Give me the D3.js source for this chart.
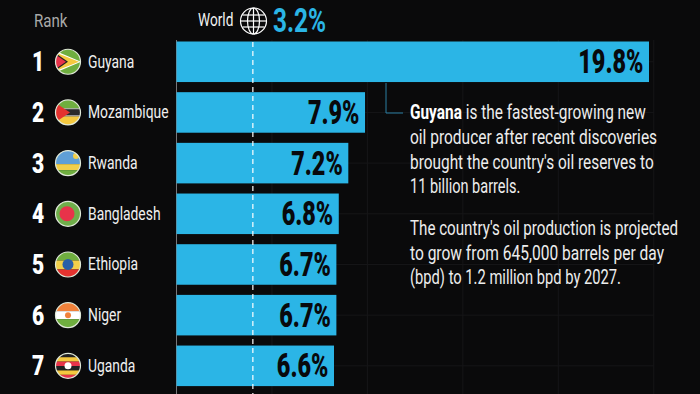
<!DOCTYPE html>
<html>
<head>
<meta charset="utf-8">
<script src="https://cdn.jsdelivr.net/npm/d3@7"></script>
<style>
  html, body { margin: 0; padding: 0; background: #0a0a0b; overflow: hidden; }
  text { font-family: "Roboto", sans-serif; }
</style>
</head>
<body>
<div id="chart"></div>
<script>
const countries = ["Guyana", "Mozambique", "Rwanda", "Bangladesh", "Ethiopia", "Niger", "Uganda"];
const ranks = [1, 2, 3, 4, 5, 6, 7];
const growth = [19.8, 7.9, 7.2, 6.8, 6.7, 6.7, 6.6];
const worldGrowth = 3.2;
const gridTicks = [4, 8, 12, 16, 20];
const noteOne = ["is the fastest-growing new", "oil producer after recent discoveries", "brought the country's oil reserves to", "11 billion barrels."];
const noteTwo = ["The country's oil production is projected", "to grow from 645,000 barrels per day", "(bpd) to 1.2 million bpd by 2027."];

const width = 700, height = 394;
const blue = "#2bb5e6";

const svg = d3.select("#chart").append("svg").attr("width", width).attr("height", height);

const x = d3.scaleLinear().domain([0, 19.8]).range([176.5, 649]);
const y = d3.scaleBand().domain(countries).range([41.5, 386.1]).paddingInner(0.2).paddingOuter(0);
const mid = d => y(d) + y.bandwidth() / 2;

// Roboto is too wide for this design, so text gets squeezed horizontally
const squeeze = (tx, ty, s) => `translate(${tx},${ty}) scale(${s},1)`;

// faint gridlines behind everything
svg.append("g").selectAll("line").data(gridTicks).join("line")
  .attr("x1", d => x(d)).attr("x2", d => x(d))
  .attr("y1", 40).attr("y2", height)
  .attr("stroke", "#161618").attr("stroke-width", 1);
svg.append("g").selectAll("line").data(countries).join("line")
  .attr("x1", x(0)).attr("x2", x(20))
  .attr("y1", mid).attr("y2", mid)
  .attr("stroke", "#161618").attr("stroke-width", 1);

// left axis line
svg.append("line").attr("x1", x(0)).attr("x2", x(0)).attr("y1", 40).attr("y2", height)
  .attr("stroke", "#77777a").attr("stroke-width", 1);

// bars
svg.append("g").selectAll("rect").data(countries).join("rect")
  .attr("x", x(0))
  .attr("y", d => y(d))
  .attr("width", (d, i) => x(growth[i]) - x(0))
  .attr("height", y.bandwidth())
  .attr("fill", blue);

// world average dashed line
svg.append("line").attr("x1", x(worldGrowth)).attr("x2", x(worldGrowth)).attr("y1", 42).attr("y2", height)
  .attr("stroke", "#fff").attr("stroke-width", 1.2).attr("stroke-dasharray", "5 4");

// value labels
svg.append("g").selectAll("text").data(countries).join("text")
  .attr("transform", (d, i) => squeeze(x(growth[i]) - 5.5, mid(d) + 11.5, 0.71))
  .attr("text-anchor", "end")
  .attr("font-size", 33).attr("font-weight", 900).attr("fill", "#08090c")
  .text((d, i) => growth[i].toFixed(1) + "%");

// rank numbers
svg.append("g").selectAll("text").data(countries).join("text")
  .attr("transform", d => squeeze(38, mid(d) + 9.5, 0.78))
  .attr("text-anchor", "middle")
  .attr("font-size", 27).attr("font-weight", 900).attr("fill", "#fff")
  .text((d, i) => ranks[i]);

// country names
svg.append("g").selectAll("text").data(countries).join("text")
  .attr("transform", d => squeeze(88, mid(d) + 6, 0.75))
  .attr("font-size", 18.5).attr("fill", "#f0f0f0")
  .text(d => d);

// flags, each is a clipped circle
const defs = svg.append("defs");
defs.append("clipPath").attr("id", "flag-clip").append("circle").attr("r", 12.5);

const flagBands = {
  Rwanda: [[-13, 14, "#5f9fd6"], [1, 6, "#f2cf4a"], [7, 6, "#6fae3f"]],
  Bangladesh: [[-13, 26, "#6fae4a"]],
  Ethiopia: [[-13, 9, "#6fae3f"], [-4, 9, "#f2cf4a"], [5, 8, "#e4322f"]],
  Niger: [[-13, 9, "#f0813a"], [-4, 8, "#fff"], [4, 9, "#6fae3f"]],
  Uganda: [[-13, 4.4, "#222"], [-8.6, 4.4, "#f5c93f"], [-4.2, 4.4, "#e8334a"], [0.2, 4.4, "#222"], [4.6, 4.4, "#f5c93f"], [9, 4, "#e8334a"]],
  Mozambique: [[-13, 9, "#6fae3f"], [-4, 1, "#fff"], [-3, 6, "#2a2a2a"], [3, 1, "#fff"], [4, 9, "#f5c93f"]],
  Guyana: [[-13, 26, "#6fae3f"]]
};

const flags = svg.append("g").selectAll("g").data(countries).join("g")
  .attr("transform", d => `translate(68,${mid(d)})`);
const flagInner = flags.append("g").attr("clip-path", "url(#flag-clip)");

flagInner.selectAll("rect").data(d => flagBands[d]).join("rect")
  .attr("x", -13).attr("width", 26)
  .attr("y", b => b[0]).attr("height", b => b[1]).attr("fill", b => b[2]);

flagInner.filter(d => d === "Guyana").each(function() {
  const g = d3.select(this);
  g.append("path").attr("d", "M-13,-11L13,0L-13,11Z").attr("fill", "#fff");
  g.append("path").attr("d", "M-13,-9.5L11,0L-13,9.5Z").attr("fill", "#f5c93f");
  g.append("path").attr("d", "M-13,-9L0,0L-13,9Z").attr("fill", "#222");
  g.append("path").attr("d", "M-13,-7.5L-2,0L-13,7.5Z").attr("fill", "#e8334a");
});
flagInner.filter(d => d === "Mozambique").append("path").attr("d", "M-13,-10L2,0L-13,10Z").attr("fill", "#e4322f");
flagInner.filter(d => d === "Rwanda").append("circle").attr("cx", 8).attr("cy", -7).attr("r", 3).attr("fill", "#f2cf4a");
flagInner.filter(d => d === "Bangladesh").append("circle").attr("cx", -1).attr("r", 7.5).attr("fill", "#e8334a");
flagInner.filter(d => d === "Ethiopia").append("circle").attr("r", 5.5).attr("fill", "#2a5fa8");
flagInner.filter(d => d === "Niger").append("circle").attr("r", 3).attr("fill", "#f0813a");
flagInner.filter(d => d === "Uganda").append("circle").attr("r", 3.5).attr("fill", "#fff");
flags.append("circle").attr("r", 12.5).attr("fill", "none").attr("stroke", "#dfe8d8").attr("stroke-width", 1.2);

// header
svg.append("text").attr("transform", squeeze(34, 27, 0.84)).attr("font-size", 18).attr("fill", "#a9a9a9").text("Rank");
svg.append("text").attr("transform", squeeze(198, 26, 0.76)).attr("font-size", 18).attr("fill", "#f2f2f2").text("World");
svg.append("text").attr("transform", squeeze(273, 31.5, 0.74)).attr("font-size", 33).attr("font-weight", 700).attr("fill", blue)
  .text(worldGrowth.toFixed(1) + "%");

// globe icon
const globe = svg.append("g").attr("transform", "translate(253.5,21)")
  .attr("fill", "none").attr("stroke", "#fff").attr("stroke-width", 1.2);
globe.append("circle").attr("r", 13);
globe.append("ellipse").attr("rx", 6).attr("ry", 13);
globe.append("line").attr("x1", 0).attr("x2", 0).attr("y1", -13).attr("y2", 13);
globe.append("line").attr("x1", -13).attr("x2", 13);
globe.append("line").attr("x1", -11).attr("x2", 11).attr("y1", -6).attr("y2", -6);
globe.append("line").attr("x1", -11).attr("x2", 11).attr("y1", 6).attr("y2", 6);

// callout
svg.append("path").attr("d", "M386,83V113H403").attr("fill", "none").attr("stroke", "#2b7ea3").attr("stroke-width", 1);

// per-line squeeze so the line ends land where the reference has them
const noteOneFit = [0.79, 0.795, 0.79, 0.745];
const noteTwoFit = [0.777, 0.797, 0.755];

const note = svg.append("g").attr("font-size", 19.5).attr("fill", "#ededed");
const first = note.append("text").attr("transform", squeeze(410, 119, noteOneFit[0]));
first.append("tspan").attr("font-weight", 700).attr("fill", "#fff").text("Guyana ");
first.append("tspan").text(noteOne[0]);
note.selectAll("text.one").data(noteOne.slice(1)).join("text").attr("class", "one")
  .attr("transform", (d, i) => squeeze(410, 144 + i * 24.5, noteOneFit[i + 1])).text(d => d);
note.selectAll("text.two").data(noteTwo).join("text").attr("class", "two")
  .attr("transform", (d, i) => squeeze(410, 235 + i * 24.5, noteTwoFit[i])).text(d => d);
</script>
</body>
</html>
